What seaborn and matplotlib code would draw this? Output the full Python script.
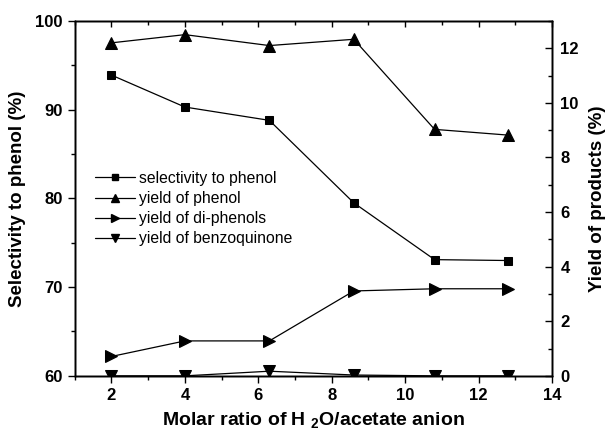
import matplotlib
matplotlib.use("Agg")
import matplotlib.pyplot as plt
import seaborn as sns
import pandas as pd
from matplotlib.ticker import MultipleLocator
from matplotlib.lines import Line2D

ratio = [2.0, 4.0, 6.3, 8.6, 10.8, 12.8]
selectivity = [93.9, 90.3, 88.8, 79.5, 73.1, 73.0]
yield_phenol = [12.2, 12.5, 12.1, 12.33, 9.03, 8.82]
yield_diphenols = [0.71, 1.28, 1.28, 3.11, 3.19, 3.19]
yield_benzoquinone = [0.0, 0.0, 0.17, 0.03, 0.0, 0.0]
labels = ["selectivity to phenol", "yield of phenol", "yield of di-phenols", "yield of benzoquinone"]

sns.set_style("ticks", rc={"text.color": "black", "axes.labelcolor": "black",
                           "xtick.color": "black", "ytick.color": "black",
                           "axes.edgecolor": "black"})
plt.rcParams['font.family'] = ['Liberation Sans', 'DejaVu Sans']
plt.rcParams['mathtext.fontset'] = 'custom'
plt.rcParams['mathtext.rm'] = 'Liberation Sans:bold'
plt.rcParams['mathtext.bf'] = 'Liberation Sans:bold'

fig = plt.figure(figsize=(6.08, 4.33), dpi=100)
ax = fig.add_axes([0.123, 0.132, 0.785, 0.8195])
ax2 = ax.twinx()
ax3 = ax.twiny()

df = pd.DataFrame({"ratio": ratio, "sel": selectivity, "yp": yield_phenol,
                   "yd": yield_diphenols, "yb": yield_benzoquinone})

kw = dict(color="black", linewidth=0.9, markeredgecolor="black", markerfacecolor="black")
sns.lineplot(data=df, x="ratio", y="sel", ax=ax, marker="s", markersize=6, **kw)
sns.lineplot(data=df, x="ratio", y="yp", ax=ax2, marker="^", markersize=9, **kw)
sns.lineplot(data=df, x="ratio", y="yd", ax=ax2, marker=">", markersize=9, **kw)
sns.lineplot(data=df, x="ratio", y="yb", ax=ax2, marker="v", markersize=9, **kw)

ax.set_xlim(1, 14)
ax3.set_xlim(1, 14)
ax.set_ylim(60, 100)
ax2.set_ylim(0, 13)

for a in (ax, ax3):
    a.xaxis.set_major_locator(MultipleLocator(2))
    a.xaxis.set_minor_locator(MultipleLocator(1))
ax.yaxis.set_major_locator(MultipleLocator(10))
ax.yaxis.set_minor_locator(MultipleLocator(5))
ax2.yaxis.set_major_locator(MultipleLocator(2))
ax2.yaxis.set_minor_locator(MultipleLocator(1))

ax.tick_params(axis="x", which="major", direction="out", length=5, width=1, labelsize=12, pad=4)
ax.tick_params(axis="x", which="minor", direction="out", length=3, width=1)
ax.tick_params(axis="y", which="major", direction="out", length=5, width=1, labelsize=12)
ax.tick_params(axis="y", which="minor", direction="out", length=3, width=1)
ax2.tick_params(axis="y", which="major", direction="in", length=5, width=1, labelsize=12, pad=6)
ax2.tick_params(axis="y", which="minor", direction="in", length=3, width=1)
ax3.tick_params(axis="x", which="major", direction="in", length=4, width=1, labeltop=False)
ax3.tick_params(axis="x", which="minor", direction="in", length=3, width=1)
for t in ax.get_xticklabels() + ax.get_yticklabels() + ax2.get_yticklabels():
    t.set_fontweight("bold")

for a in (ax, ax2, ax3):
    for s in a.spines.values():
        s.set_linewidth(1.0)
        s.set_color("black")
        s.set_visible(True)

ax.set_xlabel("Molar ratio of H $_2$O/acetate anion", fontsize=14, fontweight="bold", labelpad=5)
ax.set_ylabel("Selectivity to phenol (%)", fontsize=13.5, fontweight="bold", labelpad=7)
ax2.set_ylabel("Yield of products (%)", fontsize=13.5, fontweight="bold", labelpad=7)

handles = [Line2D([], [], marker=m, markersize=ms, **kw) for m, ms in
           [("s", 4.5), ("^", 5.5), (">", 5.5), ("v", 5.5)]]
ax.legend(handles, labels, loc="upper left", bbox_to_anchor=(0.03, 0.595), frameon=False,
          fontsize=11.3, handlelength=2.5, handletextpad=0.3, labelspacing=0.32,
          borderaxespad=0)

fig.savefig("out.png", dpi=100)
